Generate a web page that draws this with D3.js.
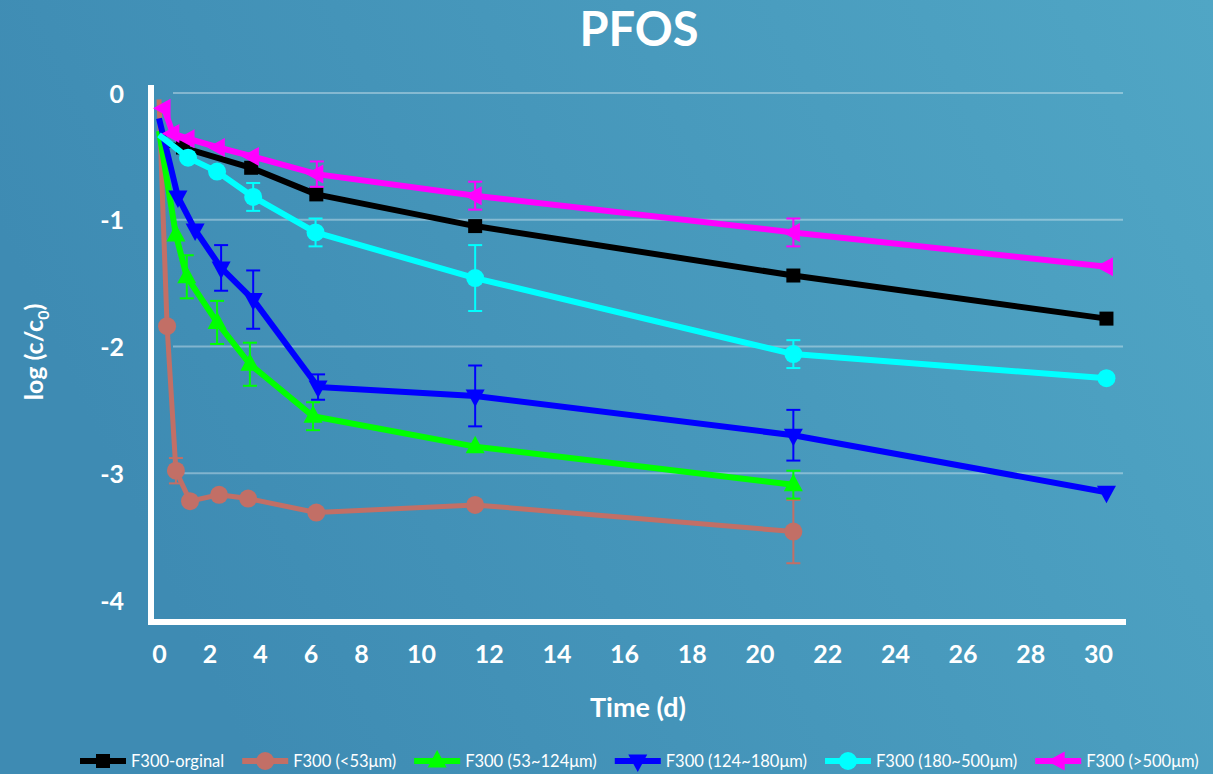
<!DOCTYPE html>
<html>
<head>
<meta charset="utf-8">
<script src="https://cdn.jsdelivr.net/npm/d3@7"></script>
<style>
  html, body { margin: 0; padding: 0; }
  body { width: 1213px; height: 774px; overflow: hidden; }
  svg text { font-family: Lato, "Open Sans", sans-serif; fill: #fff; }
</style>
</head>
<body>
<div id="graph"></div>
<script>
// PFOS removal, log(c/c0) against time (d)
var names = ['F300-orginal', 'F300 (<53μm)', 'F300 (53~124μm)', 'F300 (124~180μm)', 'F300 (180~500μm)', 'F300 (>500μm)']
var colors = ['#000000', '#c26f66', '#00ff00', '#0000ff', '#00ffff', '#ff00ff']
var shapes = ['square', 'circle', 'up', 'down', 'circle', 'left']

var tBlack = [0, 0.95, 3.65, 6.23, 11.6, 21, 30.25]
var vBlack = [-0.39, -0.43, -0.59, -0.80, -1.05, -1.44, -1.78]
var eBlack = [0, 0, 0, 0, 0, 0, 0]

var tBrown = [0, 0.32, 0.67, 1.23, 2.38, 3.53, 6.23, 11.6, 21]
var vBrown = [-0.05, -1.84, -2.98, -3.22, -3.17, -3.20, -3.31, -3.25, -3.46]
var eBrown = [0, 0, 0.1, 0, 0, 0, 0, 0, 0.25]

var tGreen = [0, 0.67, 1.1, 2.3, 3.6, 6.1, 11.6, 21]
var vGreen = [-0.30, -1.12, -1.45, -1.81, -2.14, -2.55, -2.79, -3.09]
var eGreen = [0, 0, 0.17, 0.17, 0.17, 0.11, 0, 0.11]

var tBlue = [0, 0.75, 1.43, 2.46, 3.73, 6.3, 11.6, 21, 30.25]
var vBlue = [-0.20, -0.82, -1.08, -1.38, -1.63, -2.32, -2.39, -2.70, -3.15]
var eBlue = [0, 0, 0, 0.18, 0.23, 0.1, 0.24, 0.2, 0]

var tCyan = [0, 1.15, 2.3, 3.73, 6.2, 11.6, 21, 30.25]
var vCyan = [-0.33, -0.51, -0.62, -0.82, -1.10, -1.46, -2.06, -2.25]
var eCyan = [0, 0, 0, 0.11, 0.11, 0.26, 0.11, 0]

var tMag = [0.2, 0.55, 1.15, 2.35, 3.7, 6.25, 11.6, 21, 30.25]
var vMag = [-0.12, -0.32, -0.36, -0.43, -0.50, -0.64, -0.81, -1.10, -1.37]
var eMag = [0, 0, 0, 0, 0, 0.1, 0.11, 0.11, 0]

var xTicks = d3.range(0, 31, 2)
var yTicks = [0, -1, -2, -3, -4]

var T = [tBlack, tBrown, tGreen, tBlue, tCyan, tMag]
var V = [vBlack, vBrown, vGreen, vBlue, vCyan, vMag]
var E = [eBlack, eBrown, eGreen, eBlue, eCyan, eMag]
var series = names.map(function(n, i){
  return {name: n, color: colors[i], shape: shapes[i],
    pts: T[i].map(function(t, j){ return {t: t, v: V[i][j], e: E[i][j]} })}
})

var W = 1213, H = 774
var svg = d3.select('#graph').append('svg').attr('width', W).attr('height', H)

var grad = svg.append('defs').append('linearGradient').attr('id', 'bg')
    .attr('x1', 0).attr('y1', 0.3).attr('x2', 1).attr('y2', 0)
grad.append('stop').attr('offset', 0).attr('stop-color', '#3e8bb3')
grad.append('stop').attr('offset', 1).attr('stop-color', '#50a6c5')
svg.append('rect').attr('width', W).attr('height', H).attr('fill', 'url(#bg)')

// the axis labels are spaced tighter below 8 d than above 10 d
var x = d3.scaleLinear().domain([0, 8, 10, 30]).range([159, 361, 421, 1098])
var y = d3.scaleLinear().domain([0, -4]).range([93, 600])

// grid
svg.append('g').selectAll('line').data(yTicks.slice(0, 4)).join('line')
    .attr('x1', 173).attr('x2', 1123)
    .attr('y1', function(d){ return y(d) }).attr('y2', function(d){ return y(d) })
    .attr('stroke', 'rgba(255,255,255,0.35)').attr('stroke-width', 2)

// axes
var xAxis = svg.append('g').attr('transform', 'translate(0,645)')
    .call(d3.axisBottom(x).tickValues(xTicks).tickSize(0).tickPadding(0))
xAxis.select('.domain').remove()
xAxis.selectAll('text').attr('dy', '0.71em').style('font-size', '25px').style('font-weight', 700)
    .attr('fill', '#fff')

var yAxis = svg.append('g').attr('transform', 'translate(124,0)')
    .call(d3.axisLeft(y).tickValues(yTicks).tickSize(0).tickPadding(0).tickFormat(function(d){ return String(d) }))
yAxis.select('.domain').remove()
yAxis.selectAll('text').style('font-size', '25px').style('font-weight', 700).attr('fill', '#fff')
    .attr('dy', '0.36em')

svg.append('path')
    .attr('d', 'M151,85V622H1126')
    .attr('fill', 'none').attr('stroke', '#fff').attr('stroke-width', 6)

// titles
svg.append('text').attr('x', 639).attr('y', 46).attr('text-anchor', 'middle')
    .style('font-size', '47px').style('font-weight', 700).text('PFOS')
svg.append('text').attr('x', 638).attr('y', 717).attr('text-anchor', 'middle')
    .style('font-size', '27px').style('font-weight', 700).text('Time (d)')
var yt = svg.append('text').attr('transform', 'translate(43,352) rotate(-90)')
    .attr('text-anchor', 'middle').style('font-size', '25px').style('font-weight', 700)
yt.append('tspan').text('log (c/c')
yt.append('tspan').attr('dy', 6).style('font-size', '16px').text('0')
yt.append('tspan').attr('dy', -6).text(')')

function marker(shape){
  if (shape == 'square') return 'M-7,-7H7V7H-7Z'
  if (shape == 'circle') return d3.symbol(d3.symbolCircle, Math.PI * 81)()
  if (shape == 'up') return 'M0,-11L9.5,6.5H-9.5Z'
  if (shape == 'down') return 'M0,11L9.5,-6.5H-9.5Z'
  if (shape == 'left') return 'M-11,0L6.5,-9.5V9.5Z'
}

var line = d3.line().x(function(d){ return x(d.t) }).y(function(d){ return y(d.v) })

var g = svg.selectAll('g.series').data(series).join('g').attr('class', 'series')

g.append('path')
    .attr('d', function(d){ return line(d.pts) })
    .attr('fill', 'none').attr('stroke', function(d){ return d.color })
    .attr('stroke-width', function(d, i){ return i == 1 ? 5 : 6 })
    .attr('stroke-linejoin', 'round')

g.each(function(s){
  var eb = d3.select(this).selectAll('g.err').data(s.pts.filter(function(p){ return p.e > 0 }))
      .join('g').attr('class', 'err').attr('stroke', s.color).attr('stroke-width', 2)
  eb.append('line')
      .attr('x1', function(p){ return x(p.t) }).attr('x2', function(p){ return x(p.t) })
      .attr('y1', function(p){ return y(p.v + p.e) }).attr('y2', function(p){ return y(p.v - p.e) })
  eb.append('line')
      .attr('x1', function(p){ return x(p.t) - 7 }).attr('x2', function(p){ return x(p.t) + 7 })
      .attr('y1', function(p){ return y(p.v + p.e) }).attr('y2', function(p){ return y(p.v + p.e) })
  eb.append('line')
      .attr('x1', function(p){ return x(p.t) - 7 }).attr('x2', function(p){ return x(p.t) + 7 })
      .attr('y1', function(p){ return y(p.v - p.e) }).attr('y2', function(p){ return y(p.v - p.e) })

  d3.select(this).selectAll('path.mk').data(s.pts.filter(function(p){ return p.t > 0 }))
      .join('path').attr('class', 'mk')
      .attr('d', marker(s.shape))
      .attr('transform', function(p){ return 'translate(' + x(p.t) + ',' + y(p.v) + ')' })
      .attr('fill', s.color)
})

// legend
var lx = 80
series.forEach(function(s, i){
  var lg = svg.append('g').attr('transform', 'translate(' + lx + ',761)')
  lg.append('line').attr('x1', 0).attr('x2', 46).attr('stroke', s.color).attr('stroke-width', 6)
  lg.append('path').attr('d', marker(s.shape)).attr('transform', 'translate(23,0)').attr('fill', s.color)
  var t = lg.append('text').attr('x', 51).attr('y', 6).style('font-size', '16.5px').text(s.name)
  lx += 51 + t.node().getComputedTextLength() + 18
})
</script>
</body>
</html>
